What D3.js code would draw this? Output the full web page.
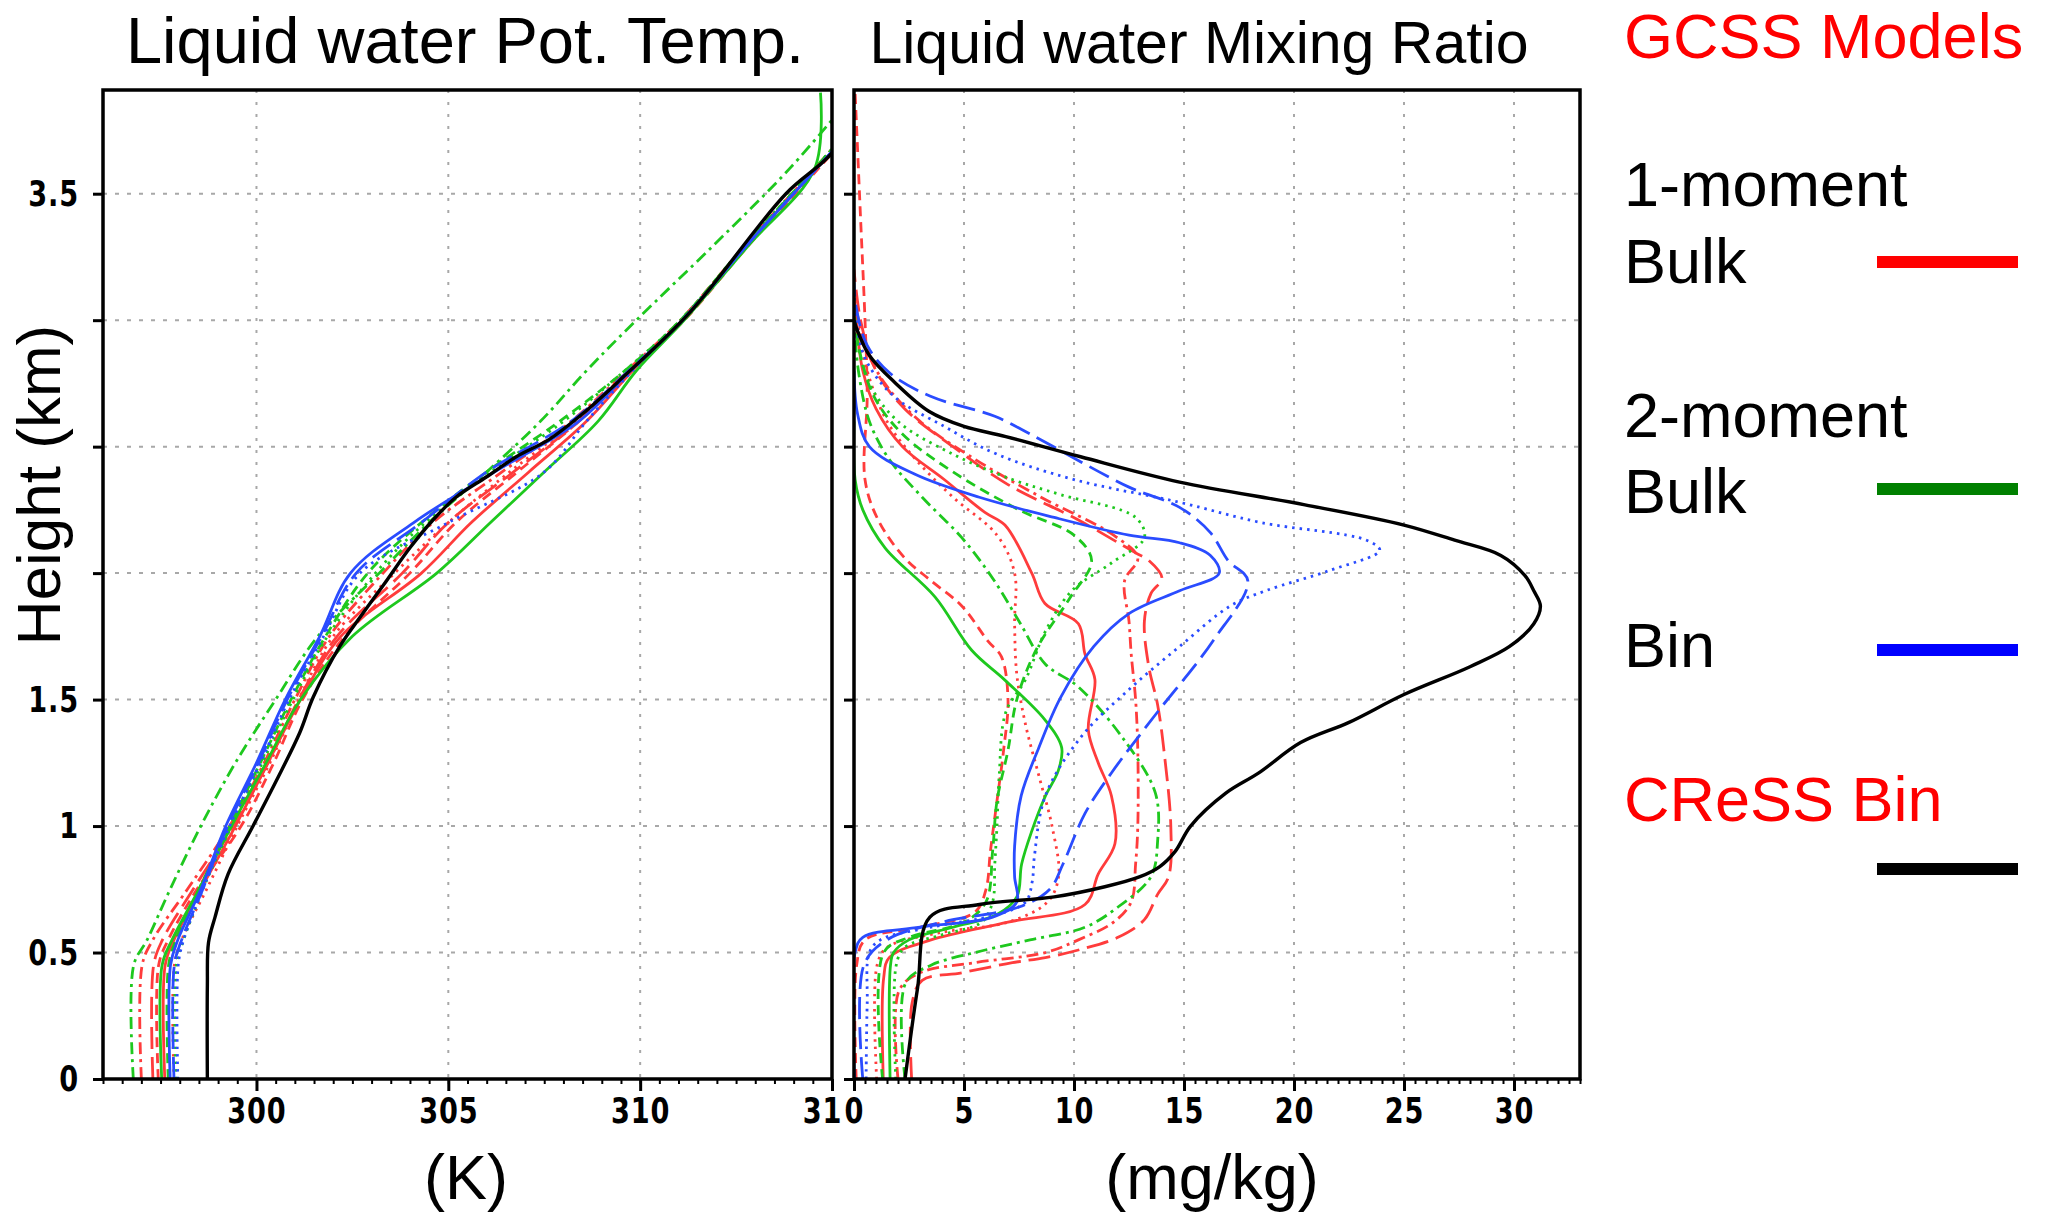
<!DOCTYPE html>
<html>
<head>
<meta charset="utf-8">
<script src="https://cdn.jsdelivr.net/npm/d3@7"></script>
<style>
  body { margin: 0; background: #fff; }
  svg { display: block; }
</style>
</head>
<body>
<script>
// ---- data: liquid water potential temperature (K) profiles ----
var thetaHeights = [0, 0.45, 0.55, 0.75, 1.0, 1.25, 1.5, 1.75, 2.0, 2.2, 2.4, 2.6, 2.8, 3.0, 3.3, 3.6, 3.9];
var thetaRedSolid    = [297.61, 297.62, 297.85, 298.55, 299.45, 300.3, 301.15, 302.2, 304.3, 305.6, 307.1, 308.6, 309.8, 311.1, 312.8, 314.6, 316.4];
var thetaRedDashed   = [297.44, 297.45, 297.7, 298.45, 299.6, 300.45, 301.2, 302.3, 304.0, 305.2, 306.8, 308.4, 309.75, 311.15, 312.85, 314.65, 316.4];
var thetaRedDotted   = [297.85, 297.86, 298.05, 298.7, 299.5, 300.35, 301.1, 302.0, 303.6, 305.0, 306.6, 308.3, 309.7, 311.1, 312.8, 314.6, 316.4];
var thetaRedDashDot  = [297.0, 297.02, 297.3, 298.2, 299.3, 300.2, 301.0, 301.9, 303.3, 304.6, 306.4, 308.2, 309.65, 311.05, 312.75, 314.55, 316.3];
var thetaRedLongDash = [297.3, 297.32, 297.55, 298.35, 299.4, 300.3, 301.1, 302.1, 303.8, 305.0, 306.7, 308.4, 309.75, 311.1, 312.8, 314.6, 316.4];
var thetaGreenSolid  = [297.53, 297.54, 297.8, 298.5, 299.35, 300.25, 301.15, 302.5, 304.7, 306.1, 307.5, 308.9, 309.9, 311.15, 312.85, 314.55, 314.7];
var thetaGreenDashed = [297.7, 297.71, 297.9, 298.5, 299.3, 300.1, 300.9, 301.8, 302.9, 304.3, 306.0, 307.9, 309.6, 311.05, 312.75, 314.55, 316.3];
var thetaGreenDotted = [297.9, 297.91, 298.1, 298.6, 299.35, 300.15, 300.95, 301.85, 303.1, 304.4, 306.1, 308.0, 309.6, 311.05, 312.75, 314.55, 316.3];
var thetaGreenDashDot = [296.79, 296.8, 297.15, 297.75, 298.55, 299.45, 300.5, 301.6, 303.2, 304.5, 306.0, 307.4, 308.6, 309.9, 311.94, 313.9, 315.6];
var thetaBlueSolid   = [297.75, 297.76, 297.95, 298.55, 299.2, 300.0, 300.75, 301.65, 302.45, 304.1, 306.2, 308.4, 309.75, 311.1, 312.8, 314.6, 316.4];
var thetaBlueDotted  = [297.95, 297.96, 298.1, 298.6, 299.3, 300.1, 300.85, 301.75, 302.7, 305.0, 307.5, 308.6, 309.8, 311.1, 312.8, 314.6, 316.4];
var thetaBlueLongDash = [297.85, 297.86, 298.05, 298.6, 299.25, 300.05, 300.8, 301.7, 302.6, 304.3, 306.0, 308.2, 309.7, 311.1, 312.8, 314.6, 316.4];

var cressThetaHeights = [0, 0.37, 0.54, 0.64, 0.81, 1.0, 1.18, 1.37, 1.51, 1.71, 1.84, 1.97, 2.1, 2.21, 2.3, 2.38, 2.46, 2.53, 2.63, 2.76, 3.03, 3.5, 3.645, 3.9];
var cressTheta = [298.72, 298.72, 298.75, 298.92, 299.26, 299.91, 300.52, 301.13, 301.48, 302.17, 302.77, 303.39, 304.0, 304.6, 305.2, 305.99, 306.77, 307.64, 308.5, 309.45, 311.29, 313.8, 314.9, 316.3];

// ---- data: liquid water mixing ratio (mg/kg) profiles, [height km, value] ----
var qlRedSolid = [[0,1.33],[0.4,1.35],[0.48,1.6],[0.55,3.5],[0.62,7.0],[0.69,10.5],[0.81,11.1],[0.93,11.86],[1.12,11.7],[1.25,11.1],[1.38,10.65],[1.58,10.95],[1.68,10.5],[1.8,10.2],[1.88,8.68],[2.0,8.08],[2.19,6.86],[2.24,5.95],[2.37,4.1],[2.5,2.2],[2.65,1.0],[2.8,0.4],[3.0,0.1],[3.1,0]];
var qlRedLongDash = [[0,2.62],[0.3,2.64],[0.39,3.1],[0.42,4.9],[0.46,7.2],[0.48,8.7],[0.51,10.2],[0.56,12.0],[0.63,13.2],[0.73,13.8],[0.8,14.3],[1.0,14.4],[1.29,14.1],[1.48,13.8],[1.63,13.4],[1.81,13.2],[1.92,13.5],[1.98,14.0],[2.05,13.4],[2.08,12.8],[2.21,10.2],[2.35,7.0],[2.5,4.5],[2.65,2.3],[2.8,1.0],[3.0,0.3],[3.2,0]];
var qlRedDashDot = [[0,2.0],[0.35,2.05],[0.42,3.0],[0.46,5.5],[0.5,8.7],[0.55,10.2],[0.62,11.8],[0.7,12.6],[0.85,12.8],[1.0,12.9],[1.3,12.9],[1.5,12.8],[1.68,12.6],[1.81,12.5],[1.97,12.3],[2.06,12.9],[2.15,11.8],[2.3,8.5],[2.45,5.5],[2.6,3.0],[2.75,1.4],[2.9,0.5],[3.1,0]];
var qlRedDotted = [[0,1.03],[0.45,1.05],[0.52,1.5],[0.58,4.0],[0.62,7.0],[0.7,8.8],[0.8,9.3],[1.0,9.0],[1.2,8.4],[1.4,7.8],[1.6,7.4],[1.8,7.3],[2.0,7.3],[2.15,6.5],[2.3,4.5],[2.45,2.8],[2.6,1.5],[2.8,0.6],[3.0,0.15],[3.1,0]];
var qlRedDashed = [[0,0.1],[0.45,0.12],[0.55,0.5],[0.6,3.0],[0.66,5.5],[0.75,6.0],[0.9,6.2],[1.1,6.5],[1.3,6.8],[1.5,7.0],[1.67,6.7],[1.73,6.1],[1.87,4.9],[1.97,3.5],[2.06,2.3],[2.21,1.1],[2.37,0.5],[2.7,0.6],[3.0,0.5],[3.4,0.3],[3.9,0.05]];
var qlGreenSolid = [[0,1.64],[0.45,1.66],[0.5,1.8],[0.55,2.5],[0.6,4.5],[0.65,6.5],[0.72,7.4],[0.85,7.62],[0.98,8.08],[1.115,8.68],[1.22,9.29],[1.31,9.44],[1.42,8.68],[1.577,6.86],[1.695,5.35],[1.906,3.68],[2.1,1.41],[2.25,0.4],[2.37,0.05],[2.6,0]];
var qlGreenDashDot = [[0,2.32],[0.38,2.35],[0.45,3.5],[0.5,5.5],[0.55,8.0],[0.6,10.5],[0.68,12.0],[0.8,13.5],[0.94,13.8],[1.13,13.7],[1.35,12.2],[1.55,10.2],[1.64,8.7],[1.81,7.5],[1.98,6.3],[2.14,4.9],[2.3,3.1],[2.45,1.6],[2.6,0.7],[2.8,0.2],[3.0,0]];
var qlGreenDotted = [[0,1.9],[0.45,1.92],[0.52,2.3],[0.57,4.0],[0.62,5.8],[0.7,6.3],[0.85,6.4],[1.0,6.5],[1.2,6.6],[1.45,6.9],[1.58,7.8],[1.77,8.7],[1.93,9.9],[2.04,11.7],[2.14,13.2],[2.22,12.8],[2.31,9.4],[2.37,7.2],[2.47,4.5],[2.6,2.0],[2.75,0.7],[2.95,0.1],[3.1,0]];
var qlGreenDashed = [[0,1.3],[0.5,1.35],[0.56,2.5],[0.62,5.0],[0.7,6.0],[0.9,6.3],[1.1,6.5],[1.3,7.0],[1.5,7.4],[1.7,8.3],[1.9,9.8],[2.05,10.8],[2.15,10.0],[2.25,7.5],[2.4,4.5],[2.55,2.2],[2.7,0.9],[2.9,0.2],[3.05,0]];
var qlBlueSolid = [[0,0.02],[0.5,0.05],[0.56,0.4],[0.6,3.0],[0.64,6.3],[0.7,7.4],[0.8,7.3],[0.92,7.3],[1.12,7.6],[1.31,8.4],[1.51,9.4],[1.71,10.9],[1.84,12.5],[1.93,14.8],[2.0,16.6],[2.07,16.2],[2.12,14.8],[2.15,12.5],[2.22,9.1],[2.3,5.7],[2.39,2.8],[2.5,0.7],[2.63,0.16],[2.8,0]];
var qlBlueDotted = [[0,0.55],[0.3,0.6],[0.5,0.7],[0.55,1.2],[0.6,3.5],[0.65,6.5],[0.7,7.8],[0.78,8.1],[0.88,8.2],[1.12,8.7],[1.35,10.3],[1.54,12.5],[1.71,14.8],[1.87,17.1],[1.93,18.7],[2.01,21.6],[2.09,23.9],[2.13,23.3],[2.2,18.5],[2.28,14.8],[2.37,10.0],[2.47,6.5],[2.58,4.1],[2.7,1.8],[2.85,0.5],[3.0,0.1],[3.1,0]];
var qlBlueLongDash = [[0,0.4],[0.45,0.45],[0.55,1.5],[0.62,4.0],[0.68,7.5],[0.75,8.9],[0.85,9.5],[1.05,10.5],[1.21,11.7],[1.44,13.7],[1.73,16.3],[1.97,17.9],[2.05,17.0],[2.16,16.2],[2.26,14.8],[2.34,12.5],[2.55,8.0],[2.62,6.4],[2.7,3.45],[2.79,1.64],[2.9,0.6],[3.05,0.1],[3.15,0]];
var qlCress = [[0,2.32],[0.36,2.89],[0.64,3.45],[0.69,5.7],[0.72,9.1],[0.76,11.4],[0.8,13.0],[0.84,13.9],[0.9,14.6],[1.0,15.3],[1.13,16.9],[1.21,18.4],[1.33,20.3],[1.41,22.5],[1.52,25.0],[1.63,28.0],[1.71,29.8],[1.8,30.9],[1.87,31.2],[1.93,30.9],[1.99,30.5],[2.07,29.4],[2.13,27.3],[2.19,25.0],[2.27,20.5],[2.36,14.8],[2.46,10.3],[2.54,6.9],[2.58,5.0],[2.64,3.4],[2.75,1.9],[2.86,0.7],[2.96,0.15],[3.0,0]];

// ---- ticks and labels ----
var thetaTicks = [300, 305, 310, 315];
var qlTicks = [0, 5, 10, 15, 20, 25, 30];
var heightTicks = [0, 0.5, 1, 1.5, 2, 2.5, 3, 3.5];
var heightTickLabels = ["0", "0.5", "1", "1.5", "", "", "", "3.5"];
var legendLabels = [["1-moment", "Bulk"], ["2-moment", "Bulk"], ["Bin"]];
var legendColors = ["#ff0000", "#008000", "#0000ff"];

var W = 2054, H = 1213;
var plotTop = 90, plotBottom = 1079;
var red = "#ff3c3c", green = "#1ec81e", blue = "#2a4cff";
var dash = { solid: null, dashed: "10,6", dotted: "2.5,5", dashdot: "12,5,3,5", longdash: "22,8" };
var textFont = "'Liberation Sans', Arial, sans-serif";
var tickFont = "'DejaVu Sans Condensed', 'DejaVu Sans', sans-serif";
var tickSquash = 0.84;   // the original tick font is tall and narrow

var svg = d3.select("body").append("svg").attr("width", W).attr("height", H);
svg.append("rect").attr("width", W).attr("height", H).attr("fill", "#fff");
var defs = svg.append("defs");

var y = d3.scaleLinear().domain([0, 3.91]).range([plotBottom, plotTop]);
var xTheta = d3.scaleLinear().domain([296, 315]).range([103, 832]);
var xQl = d3.scaleLinear().domain([0, 33]).range([854, 1580]);

function thetaProfile(values) {
    return d3.zip(thetaHeights, values);
}

var thetaSeries = [
    { color: red, style: "solid", values: thetaProfile(thetaRedSolid) },
    { color: red, style: "dashed", values: thetaProfile(thetaRedDashed) },
    { color: red, style: "dotted", values: thetaProfile(thetaRedDotted) },
    { color: red, style: "dashdot", values: thetaProfile(thetaRedDashDot) },
    { color: red, style: "longdash", values: thetaProfile(thetaRedLongDash) },
    { color: green, style: "solid", values: thetaProfile(thetaGreenSolid) },
    { color: green, style: "dashed", values: thetaProfile(thetaGreenDashed) },
    { color: green, style: "dotted", values: thetaProfile(thetaGreenDotted) },
    { color: green, style: "dashdot", values: thetaProfile(thetaGreenDashDot) },
    { color: blue, style: "solid", values: thetaProfile(thetaBlueSolid) },
    { color: blue, style: "dotted", values: thetaProfile(thetaBlueDotted) },
    { color: blue, style: "longdash", values: thetaProfile(thetaBlueLongDash) }
];

var qlSeries = [
    { color: red, style: "solid", values: qlRedSolid },
    { color: red, style: "dashed", values: qlRedDashed },
    { color: red, style: "dotted", values: qlRedDotted },
    { color: red, style: "dashdot", values: qlRedDashDot },
    { color: red, style: "longdash", values: qlRedLongDash },
    { color: green, style: "solid", values: qlGreenSolid },
    { color: green, style: "dashed", values: qlGreenDashed },
    { color: green, style: "dotted", values: qlGreenDotted },
    { color: green, style: "dashdot", values: qlGreenDashDot },
    { color: blue, style: "solid", values: qlBlueSolid },
    { color: blue, style: "dotted", values: qlBlueDotted },
    { color: blue, style: "longdash", values: qlBlueLongDash }
];

function styleTicks(axisG) {
    // d3 sets its own font on call, so override afterwards
    axisG.attr("font-family", tickFont)
        .attr("font-weight", "bold")
        .attr("font-size", 36);
    axisG.select(".domain").remove();
    axisG.selectAll("line").attr("stroke-width", 3);
    axisG.selectAll("text")
        .attr("fill", "#000")
        .attr("letter-spacing", 1)
        .attr("x", function() { return (+d3.select(this).attr("x") || 0) / tickSquash; })
        .attr("transform", "scale(" + tickSquash + ",1)");
}

function drawPanel(id, x, xTicks, minorStep, series, cress, showYLabels) {
    var x0 = x.range()[0], x1 = x.range()[1];
    var g = svg.append("g");

    // white backing (the right panel sits on top of the left one's last label)
    g.append("rect")
        .attr("x", x0 - 11).attr("y", 0)
        .attr("width", x1 - x0 + 22).attr("height", 1140)
        .attr("fill", "#fff");

    defs.append("clipPath").attr("id", id)
        .append("rect")
        .attr("x", x0).attr("y", plotTop)
        .attr("width", x1 - x0).attr("height", plotBottom - plotTop);

    // dotted grid
    g.selectAll(".vgrid")
        .data(xTicks.filter(function(d) { return x(d) > x0 + 3 && x(d) < x1 - 3; }))
        .enter().append("line")
        .attr("x1", function(d) { return x(d); })
        .attr("x2", function(d) { return x(d); })
        .attr("y1", plotTop).attr("y2", plotBottom)
        .attr("stroke", "#a8a8a8").attr("stroke-width", 2)
        .attr("stroke-dasharray", "3,9");
    g.selectAll(".hgrid")
        .data(heightTicks.slice(1))
        .enter().append("line")
        .attr("x1", x0).attr("x2", x1)
        .attr("y1", function(d) { return y(d); })
        .attr("y2", function(d) { return y(d); })
        .attr("stroke", "#a8a8a8").attr("stroke-width", 2)
        .attr("stroke-dasharray", "4,8");

    // profiles
    var line = d3.line()
        .x(function(d) { return x(d[1]); })
        .y(function(d) { return y(d[0]); })
        .curve(d3.curveCatmullRom.alpha(0.5));

    var plot = g.append("g").attr("clip-path", "url(#" + id + ")");
    plot.selectAll("path.gcss")
        .data(series)
        .enter().append("path")
        .attr("class", "gcss")
        .attr("d", function(d) { return line(d.values); })
        .attr("fill", "none")
        .attr("stroke", function(d) { return d.color; })
        .attr("stroke-width", 2.8)
        .attr("stroke-dasharray", function(d) { return dash[d.style]; });

    plot.append("path")
        .attr("d", line(cress))
        .attr("fill", "none")
        .attr("stroke", "#000")
        .attr("stroke-width", 3.4);

    // frame
    g.append("rect")
        .attr("x", x0).attr("y", plotTop)
        .attr("width", x1 - x0).attr("height", plotBottom - plotTop)
        .attr("fill", "none").attr("stroke", "#000").attr("stroke-width", 3.5);

    // minor x ticks
    var minorAxis = g.append("g")
        .attr("transform", "translate(0," + plotBottom + ")")
        .call(d3.axisBottom(x)
            .tickValues(d3.range(x.domain()[0], x.domain()[1] + 0.001, minorStep))
            .tickSize(5).tickFormat(""));
    minorAxis.select(".domain").remove();
    minorAxis.selectAll("line").attr("stroke-width", 2);

    // major x ticks
    var xAxis = g.append("g")
        .attr("transform", "translate(0," + plotBottom + ")")
        .call(d3.axisBottom(x).tickValues(xTicks).tickSize(12).tickPadding(6).tickFormat(d3.format("d")));
    styleTicks(xAxis);

    // y ticks
    var yAxis = g.append("g")
        .attr("transform", "translate(" + x0 + ",0)")
        .call(d3.axisLeft(y).tickValues(heightTicks).tickSize(10).tickPadding(14)
            .tickFormat(function(d, i) { return showYLabels ? heightTickLabels[i] : ""; }));
    styleTicks(yAxis);
}

drawPanel("clipTheta", xTheta, thetaTicks, 0.5, thetaSeries, d3.zip(cressThetaHeights, cressTheta), true);
drawPanel("clipQl", xQl, qlTicks, 0.5, qlSeries, qlCress, false);

// titles and axis labels
svg.append("text")
    .attr("x", 465).attr("y", 63)
    .attr("text-anchor", "middle")
    .attr("font-family", textFont).attr("font-size", 65)
    .text("Liquid water Pot. Temp.");
svg.append("text")
    .attr("x", 1199).attr("y", 63)
    .attr("text-anchor", "middle")
    .attr("font-family", textFont).attr("font-size", 59)
    .text("Liquid water Mixing Ratio");
svg.append("text")
    .attr("x", 466).attr("y", 1199)
    .attr("text-anchor", "middle")
    .attr("font-family", textFont).attr("font-size", 63)
    .text("(K)");
svg.append("text")
    .attr("x", 1212).attr("y", 1199)
    .attr("text-anchor", "middle")
    .attr("font-family", textFont).attr("font-size", 63)
    .text("(mg/kg)");
svg.append("text")
    .attr("transform", "translate(60,485) rotate(-90)")
    .attr("text-anchor", "middle")
    .attr("font-family", textFont).attr("font-size", 62)
    .text("Height (km)");

// legend
var legend = svg.append("g")
    .attr("font-family", textFont)
    .attr("font-size", 63);
legend.append("text").attr("x", 1624).attr("y", 58).attr("fill", "#ff0000").text("GCSS Models");

var legendTextY = [[206, 283], [437, 513], [667]];
var legendLineY = [262, 489, 650];
legendLabels.forEach(function(lines, i) {
    lines.forEach(function(t, j) {
        legend.append("text").attr("x", 1624).attr("y", legendTextY[i][j]).attr("fill", "#000").text(t);
    });
    legend.append("line")
        .attr("x1", 1877).attr("x2", 2018)
        .attr("y1", legendLineY[i]).attr("y2", legendLineY[i])
        .attr("stroke", legendColors[i]).attr("stroke-width", 12);
});
legend.append("text").attr("x", 1624).attr("y", 821).attr("fill", "#ff0000").text("CReSS Bin");
legend.append("line")
    .attr("x1", 1877).attr("x2", 2018)
    .attr("y1", 869).attr("y2", 869)
    .attr("stroke", "#000").attr("stroke-width", 12);
</script>
</body>
</html>
